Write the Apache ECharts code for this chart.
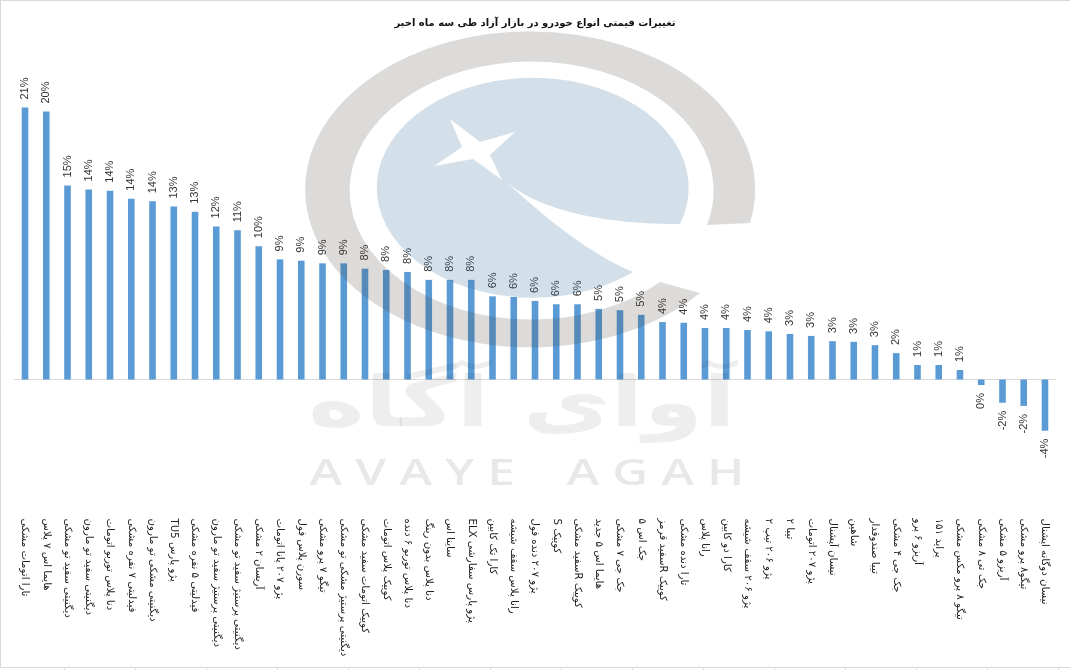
<!DOCTYPE html>
<html><head><meta charset="utf-8">
<style>html,body{margin:0;padding:0;background:#fff}#c{width:1070px;height:670px}</style>
<script src="https://cdn.jsdelivr.net/npm/echarts@6/dist/echarts.min.js"></script>
</head><body><div id="c"></div>
<script>
const titleText = 'تغییرات قیمتی انواع خودرو در بازار آزاد طی سه ماه اخیر';
const categories = [
'تارا اتومات مشکی','هایما اس ۷ پلاس','دیگنیتی سفید تو مشکی','دیگنیتی سفید تو مارون','دنا پلاس توربو اتومات','فیدلیتی ۷ نفره مشکی','دیگنیتی مشکی تو مارون','پژو پارس TU5','فیدلیتی ۵ نفره مشکی','دیگنیتی پرستیژ سفید تو مارون','دیگنیتی پرستیژ سفید تو مشکی','آریسان ۲ مشکی','پژو ۲۰۷ پانا اتومات','سورن پلاس فول','تیگو ۷ پرو مشکی','دیگنیتی پرستیژ مشکی تو مشکی','کوییک اتومات سفید مشکی','کوییک پلاس اتومات','دنا پلاس توربو ۶ دنده','دنا پلاس بدون رینگ','ساینا اس','پژو پارس سفارشی ELX','کارا تک کابین','رانا پلاس سقف شیشه','پژو ۲۰۷ دنده فول','کوییک S','کوییک Rسفید مشکی','هایما اس ۵ جدید','جک جی ۷ مشکی','جک اس ۵','کوییک Rسفید قرمز','تارا دنده مشکی','رانا پلاس','کارا دو کابین','پژو ۲۰۶ سقف شیشه','پژو ۲۰۶ تیپ ۲','تیبا ۲','پژو ۲۰۷ اتومات','نیسان آپشنال','شاهین','تیبا صندوقدار','جک جی ۴ مشکی','آریزو ۶ پرو','پراید ۱۵۱','تیگو ۸ پرو مکس مشکی','جک تی ۸ مشکی','آریزو ۵ مشکی','تیگو۸ پرو مشکی','نیسان دوگانه اپشنال'];
const changes = [20.6,20.3,14.7,14.4,14.3,13.7,13.5,13.1,12.7,11.6,11.3,10.1,9.1,9.0,8.8,8.8,8.4,8.3,8.15,7.55,7.55,7.55,6.3,6.25,5.95,5.7,5.7,5.35,5.25,4.9,4.35,4.3,3.9,3.9,3.75,3.65,3.45,3.3,2.9,2.85,2.6,2.0,1.1,1.1,0.72,-0.42,-1.76,-2.0,-3.88];
const frameTicks = [64,135,206,277,348,419,490,561,632,703,774,845,916,987,1058];

const chart = echarts.init(document.getElementById('c'), null, {renderer:'canvas', width:1070, height:670});
const fa = '"DejaVu Sans",sans-serif';
const lat = '"Liberation Sans",sans-serif';
const gray = '#d9d9d9';
const line = (x1,y1,x2,y2)=>({type:'line',silent:true,z:1,shape:{x1,y1,x2,y2},style:{stroke:gray,lineWidth:1}});

function watermark(){
  return {type:'group',silent:true,children:[
    {type:'path',shape:{pathData:'M750,223 A225,158 0 1 0 700,293 L660,282 A182,129 0 1 1 707,225 Z'},style:{fill:'rgba(60,55,50,0.18)'}},
    {type:'path',shape:{pathData:'M680,224 A156,110 0 1 0 633,272 C600,258 560,232 502,178 C525,200 575,224 680,224 Z'},style:{fill:'rgba(60,115,155,0.22)'}},
    {type:'path',shape:{pathData:'M450,119 L480,142 L515,132 L490,155 L502,180 L473,159 L434,166 L462,147 Z'},style:{fill:'#fff'}},
    {type:'text',x:522,y:408,scaleX:1.37,style:{text:'آوای آگاه',x:0,y:0,align:'center',verticalAlign:'middle',font:'bold 70px "DejaVu Sans"',fill:'rgba(0,0,0,0.065)'}},
    {type:'text',x:527,y:475,scaleX:1.38,style:{text:'A V A Y E    A G A H',x:0,y:0,align:'center',verticalAlign:'middle',font:'600 36px "Open Sans"',fill:'rgba(0,0,0,0.09)'}}
  ]};
}

chart.setOption({
  backgroundColor:'#fff',
  animation:false,
  title:{text:titleText,left:530,top:13,textAlign:'center',textStyle:{fontFamily:fa,fontSize:10,fontWeight:'bold',color:'#111'}},
  grid:{left:14.4,right:14.4,top:49.5,height:396,containLabel:false,outerBoundsMode:'none'},
  xAxis:{type:'category',data:categories,
    axisLine:{onZero:true,lineStyle:{color:gray,width:1}},axisTick:{show:false},
    axisLabel:{interval:0,rotate:-90,margin:73,fontFamily:fa,fontSize:10.2,color:'#222',hideOverlap:false,
      formatter:v=>'\u202B'+v+'\u202C'}},
  yAxis:{type:'value',min:-5,max:25,interval:5,show:false,splitLine:{show:false}},
  series:[{type:'bar',barWidth:6.6,itemStyle:{color:'#5B9BD5'},z:2,
    data:changes.map(v=>({value:v,label:v<0?{position:'bottom',align:'right',distance:8}:{position:'top',align:'left',distance:8}})),
    label:{show:true,rotate:90,verticalAlign:'middle',fontFamily:lat,fontSize:11,color:'#333',
      formatter:p=>Math.round(p.value)+'%'}},
    {type:'custom',coordinateSystem:'none',silent:true,z:20,data:[0],renderItem:watermark}],
  graphic:{elements:[
    line(0.5,0,0.5,667),line(0,0.5,1070,0.5),line(0,667.5,1070,667.5),
    ...frameTicks.map(x=>line(x+.5,667,x+.5,670))
  ]}
});
</script></body></html>
